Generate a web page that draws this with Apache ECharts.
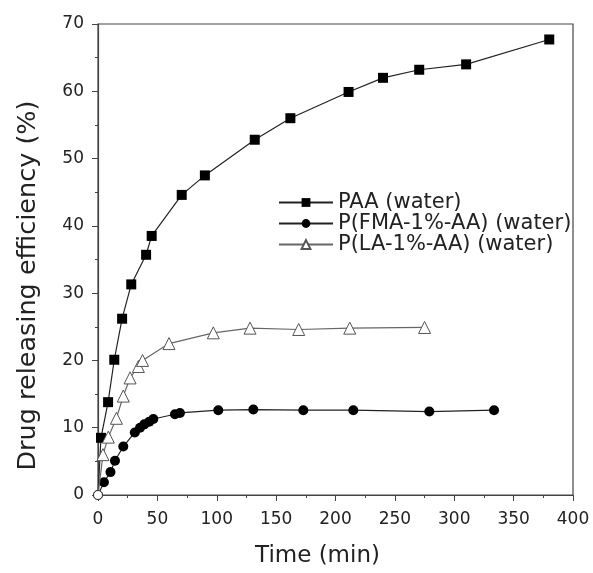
<!DOCTYPE html>
<html>
<head>
<meta charset="utf-8">
<script src="https://cdn.jsdelivr.net/npm/echarts@6/dist/echarts.min.js"></script>
<style>html,body{margin:0;padding:0;background:#fff}#c{width:593px;height:573px}</style>
</head>
<body>
<div id="c"></div>
<script>
// Data
const paaTime = [0, 2.5, 8.5, 13.7, 20.3, 28, 40.5, 45.2, 70.5, 90, 132, 162, 211, 240, 270.5, 310, 380];
const paaValue = [0, 8.5, 13.8, 20.1, 26.2, 31.3, 35.7, 38.5, 44.6, 47.5, 52.8, 56.0, 59.9, 62.0, 63.2, 64.0, 67.7];

const fmaTime = [0, 5, 10.5, 14.3, 21.3, 31, 35.4, 39, 43.2, 46.6, 64.8, 69, 101.3, 130.8, 172.9, 215, 279, 333.5];
const fmaValue = [0, 1.9, 3.4, 5.1, 7.2, 9.3, 10.0, 10.5, 10.9, 11.3, 12.0, 12.2, 12.6, 12.7, 12.6, 12.6, 12.4, 12.6];

const laTime = [0, 4.2, 8.7, 15.5, 21.3, 27, 34, 37.5, 59.8, 97.1, 128, 169, 212, 275];
const laValue = [0, 6.0, 8.6, 11.4, 14.7, 17.4, 19.1, 20.0, 22.5, 24.1, 24.8, 24.6, 24.8, 24.9];

const seriesNames = ['PAA (water)', 'P(FMA-1%-AA) (water)', 'P(LA-1%-AA) (water)'];
const xTitle = 'Time (min)';
const yTitle = 'Drug releasing efficiency (%)';

function pairs(xs, ys) {
  return xs.map((x, i) => {
    if (i === 0) {
      return { value: [x, ys[i]], symbol: 'circle', symbolSize: 9,
        itemStyle: { color: '#fff', borderColor: '#333', borderWidth: 1 } };
    }
    return [x, ys[i]];
  });
}

const FONT = 'DejaVu Sans';
const chart = echarts.init(document.getElementById('c'), null, { renderer: 'canvas' });
chart.setOption({
  animation: false,
  backgroundColor: '#fff',
  grid: { left: 98, right: 20, top: 24, bottom: 73, show: true, borderColor: '#444', borderWidth: 1.2, backgroundColor: 'transparent' },
  legend: {
    left: 273, top: 187, orient: 'vertical', itemGap: 0, itemWidth: 54, itemHeight: 11,
    textStyle: { fontFamily: FONT, fontSize: 21, lineHeight: 20, color: '#222' },
    data: seriesNames
  },
  xAxis: {
    type: 'value', min: 0, max: 400, interval: 50,
    name: xTitle, nameLocation: 'middle', nameGap: 50,
    nameTextStyle: { fontFamily: FONT, fontSize: 23, color: '#222', padding: [0, 36, 0, 0] },
    axisLine: { lineStyle: { color: '#444', width: 1.2 } },
    axisTick: { show: true, inside: false, length: 6, lineStyle: { color: '#444' } },
    minorTick: { show: true, splitNumber: 2, length: 3, lineStyle: { color: '#444' } },
    axisLabel: { fontFamily: FONT, fontSize: 17, color: '#222', margin: 16 },
    splitLine: { show: false }
  },
  yAxis: {
    type: 'value', min: 0, max: 70, interval: 10,
    name: yTitle, nameLocation: 'middle', nameGap: 57,
    nameTextStyle: { fontFamily: FONT, fontSize: 25.5, color: '#222', padding: [0, 52, 0, 0] },
    axisLine: { lineStyle: { color: '#444', width: 1.2 } },
    axisTick: { show: true, inside: false, length: 6, lineStyle: { color: '#444' } },
    minorTick: { show: true, splitNumber: 2, length: 3, lineStyle: { color: '#444' } },
    axisLabel: { fontFamily: FONT, fontSize: 17, color: '#222', margin: 14 },
    splitLine: { show: false }
  },
  series: [
    {
      name: seriesNames[0], type: 'line', data: pairs(paaTime, paaValue),
      symbol: 'rect', symbolSize: 10,
      lineStyle: { color: '#222', width: 1.2 },
      itemStyle: { color: '#000', borderColor: '#000', borderWidth: 0 }, z: 3
    },
    {
      name: seriesNames[1], type: 'line', data: pairs(fmaTime, fmaValue),
      symbol: 'circle', symbolSize: 10,
      lineStyle: { color: '#222', width: 1.2 },
      itemStyle: { color: '#000', borderColor: '#000', borderWidth: 0 }, z: 3
    },
    {
      name: seriesNames[2], type: 'line', data: pairs(laTime, laValue),
      symbol: 'triangle', symbolSize: 12,
      lineStyle: { color: '#666', width: 1.2 },
      itemStyle: { color: '#fff', borderColor: '#555', borderWidth: 1 }, z: 4
    }
  ]
});
</script>
</body>
</html>
